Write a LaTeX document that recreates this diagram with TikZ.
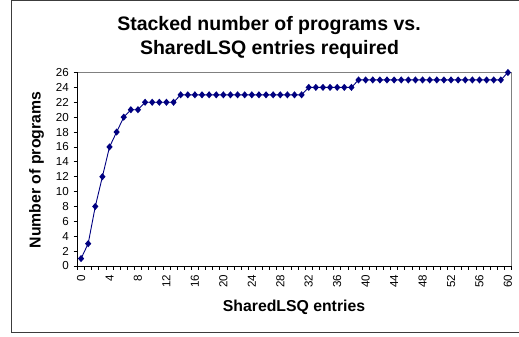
\documentclass[tikz,border=0pt]{standalone}
\usepackage{fontspec}
\setmainfont{Liberation Sans}
\usetikzlibrary{calc}
\definecolor{seriesblue}{RGB}{0,0,128}
\definecolor{framegray}{RGB}{60,60,60}
\definecolor{plotgray}{RGB}{128,128,128}
\begin{document}
\begin{tikzpicture}[x=1pt,y=-1pt,
  charttitle/.style={font=\fontsize{19.5}{22}\selectfont\bfseries, anchor=base, inner sep=0pt},
  axistitle/.style={font=\fontsize{15.8}{18}\selectfont\bfseries, inner sep=0pt},
  ticklabel/.style={font=\fontsize{11.6}{13}\selectfont, inner sep=0pt},
  serieslink/.style={seriesblue, line width=0.9pt},
  marker/.style={fill=seriesblue, draw=none}
]
\useasboundingbox (0,0) rectangle (519,337);
% outer chart frame (its right side runs off the page)
\draw[framegray, line width=1.1pt] (521,0.6) -- (11.8,0.6) -- (11.8,332.6) -- (521,332.6);

% plot area geometry
\def\PL{77.5}\def\PR{511.5}\def\PT{72.5}\def\PB{266}
\pgfmathsetmacro{\cw}{(\PR-\PL)/61}
\pgfmathsetmacro{\uy}{(\PB-\PT)/26}

% plot area border and axes
\draw[plotgray, line width=0.8pt] (\PL,\PT) -- (\PR,\PT) -- (\PR,\PB);
\draw[black, line width=0.8pt] (\PL,\PT) -- (\PL,\PB) -- (\PR,\PB);

% value axis: ticks and labels
\foreach \v in {0,2,...,26} {
  \pgfmathsetmacro{\yy}{\PB-\v*\uy}
  \draw[black, line width=0.7pt] (\PL-4,\yy) -- (\PL,\yy);
  \node[ticklabel, anchor=east] (ylab\v) at (\PL-8.5,\yy) {\v};
}

% category axis: ticks on category boundaries
\foreach \k in {0,...,61} {
  \pgfmathsetmacro{\xx}{\PL+\k*\cw}
  \draw[black, line width=0.7pt] (\xx,\PB) -- (\xx,\PB+4);
}
\foreach \c in {0,4,...,60} {
  \pgfmathsetmacro{\xx}{\PL+(\c+0.5)*\cw}
  \node[ticklabel, rotate=90, anchor=east] (xlab\c) at (\xx,274.5) {\c};
}

% data series
\def\series{1,3,8,12,16,18,20,21,21,22,22,22,22,22,23,23,23,23,23,23,23,23,23,23,23,23,23,23,23,23,23,23,24,24,24,24,24,24,24,25,25,25,25,25,25,25,25,25,25,25,25,25,25,25,25,25,25,25,25,25,26}
\foreach \val [count=\n from 0] in \series {
  \pgfmathsetmacro{\xx}{\PL+(\n+0.5)*\cw}
  \pgfmathsetmacro{\yy}{\PB-\val*\uy}
  \coordinate (p\n) at (\xx,\yy);
}
\draw[serieslink] (p0) \foreach \n in {1,...,60} { -- (p\n) };
\foreach \n in {0,...,60} {
  \fill[marker] ($(p\n)+(0,-3.6)$) -- ($(p\n)+(3.1,0)$) -- ($(p\n)+(0,3.6)$) -- ($(p\n)+(-3.1,0)$) -- cycle;
}

% titles
\node[charttitle] (title1) at (269,30.7) {Stacked number of programs vs.};
\node[charttitle] (title2) at (269.5,54.2) {SharedLSQ entries required};
\node[axistitle, rotate=90] (ytitle) at (36.5,170) {Number of programs};
\node[axistitle] (xtitle) at (294,307) {SharedLSQ entries};
\end{tikzpicture}
\end{document}
